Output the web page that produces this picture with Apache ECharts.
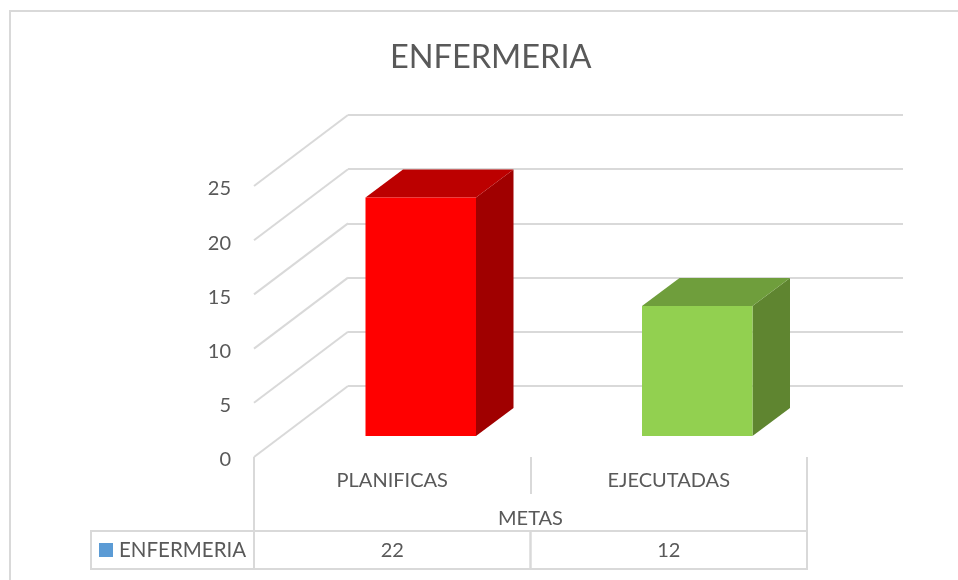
<!DOCTYPE html>
<html>
<head>
<meta charset="utf-8">
<title>ENFERMERIA</title>
<script src="https://cdn.jsdelivr.net/npm/echarts@6/dist/echarts.min.js"></script>
<style>
  html, body { margin: 0; padding: 0; background: #fff; }
  #chart { width: 958px; height: 580px; }
</style>
</head>
<body>
<div id="chart"></div>
<script>
const categories = ['PLANIFICAS', 'EJECUTADAS'];
const metas = [22, 12];
const ticks = [0, 5, 10, 15, 20, 25];
const seriesName = 'ENFERMERIA';
const axisTitle = 'METAS';

const barColors = [
    { front: '#ff0000', top: '#bc0000', side: '#a00000' },
    { front: '#92d050', top: '#6f9e3c', side: '#5f8530' }
];

const font = 'Lato';
const textColor = '#595959';
const lineColor = '#d9d9d9';

// depth of the fake 3d box
const wallDx = 94, wallDy = -71;
const barDx = 37.5, barDy = -28;
const barWidth = 110.5, barShift = 28.5, floorLift = 21;

function poly(points, fill) {
    return { type: 'polygon', shape: { points: points }, style: { fill: fill } };
}

function renderBar(params, api) {
    const i = api.value(0);
    const top = api.coord([i, api.value(1)]);
    const base = api.coord([i, 0]);
    const x0 = top[0] + barShift - barWidth / 2, x1 = x0 + barWidth;
    const y0 = top[1] - floorLift, y1 = base[1] - floorLift;
    const c = barColors[i];
    return {
        type: 'group',
        children: [
            poly([[x1, y0], [x1 + barDx, y0 + barDy], [x1 + barDx, y1 + barDy], [x1, y1]], c.side),
            poly([[x0, y0], [x0 + barDx, y0 + barDy], [x1 + barDx, y0 + barDy], [x1, y0]], c.top),
            poly([[x0, y0], [x1, y0], [x1, y1], [x0, y1]], c.front)
        ]
    };
}

function renderDiagonal(params, api) {
    const p = api.coord([0, api.value(0)]);
    const x = params.coordSys.x;
    return {
        type: 'line',
        shape: { x1: x, y1: p[1], x2: x + wallDx, y2: p[1] + wallDy },
        style: { stroke: lineColor, lineWidth: 2 }
    };
}

function renderTableCell(params, api) {
    const p = api.coord([api.value(0), 0]);
    const w = api.size([1, 0])[0];
    return {
        type: 'group',
        children: [
            {
                type: 'rect',
                shape: { x: p[0] - w / 2, y: 531, width: w, height: 38 },
                style: { fill: 'none', stroke: lineColor, lineWidth: 2 }
            },
            {
                type: 'text',
                style: {
                    x: p[0], y: 551, text: String(api.value(1)),
                    align: 'center', verticalAlign: 'middle',
                    font: '20px ' + font, fill: textColor
                }
            }
        ]
    };
}

const chart = echarts.init(document.getElementById('chart'));

chart.setOption({
    animation: false,
    backgroundColor: '#fff',
    title: {
        text: seriesName,
        left: 385, top: 36,
        textStyle: { fontFamily: font, fontSize: 32.5, fontWeight: 'normal', color: textColor }
    },
    grid: [
        { left: 254, top: 186, width: 553, height: 271 },
        { left: 348, top: 115, width: 555, height: 271 }
    ],
    xAxis: [
        {
            type: 'category', gridIndex: 0, data: categories,
            axisLine: { show: false },
            axisTick: { show: true, length: 37, lineStyle: { color: lineColor, width: 2 } },
            axisLabel: { margin: 14, fontFamily: font, fontSize: 20, color: textColor },
            name: axisTitle, nameLocation: 'middle', nameGap: 52,
            nameTextStyle: { fontFamily: font, fontSize: 20, color: textColor }
        },
        {
            type: 'category', gridIndex: 1, data: categories, show: false
        }
    ],
    yAxis: [
        {
            type: 'value', gridIndex: 0, min: 0, max: 25, interval: 5,
            axisLine: { show: false }, axisTick: { show: false }, splitLine: { show: false },
            // top align with a short line box pushes the numbers a little under the tick
            axisLabel: { margin: 23, verticalAlign: 'top', lineHeight: 6, fontFamily: font, fontSize: 20, color: textColor }
        },
        {
            type: 'value', gridIndex: 1, min: 0, max: 25, interval: 5,
            axisLine: { show: false }, axisTick: { show: false }, axisLabel: { show: false },
            splitLine: { show: true, lineStyle: { color: lineColor, width: 2 } }
        }
    ],
    series: [
        {
            type: 'custom', name: 'diagonals', xAxisIndex: 0, yAxisIndex: 0,
            data: ticks.map(t => [t]), encode: { y: 0 }, renderItem: renderDiagonal, silent: true
        },
        {
            type: 'custom', name: seriesName, xAxisIndex: 0, yAxisIndex: 0,
            data: metas.map((v, i) => [i, v]), encode: { x: 0, y: 1 }, renderItem: renderBar
        },
        {
            type: 'custom', name: 'table', xAxisIndex: 0, yAxisIndex: 0,
            data: metas.map((v, i) => [i, v]), encode: { x: 0 }, renderItem: renderTableCell, silent: true, clip: false
        }
    ],
    graphic: [
        // chart frame
        { type: 'line', silent: true, shape: { x1: 10, y1: 11, x2: 958, y2: 11 }, style: { stroke: lineColor, lineWidth: 2 } },
        { type: 'line', silent: true, shape: { x1: 10, y1: 10, x2: 10, y2: 580 }, style: { stroke: lineColor, lineWidth: 2 } },
        // table frame
        { type: 'line', silent: true, shape: { x1: 254, y1: 494, x2: 254, y2: 531 }, style: { stroke: lineColor, lineWidth: 2 } },
        { type: 'line', silent: true, shape: { x1: 807, y1: 494, x2: 807, y2: 531 }, style: { stroke: lineColor, lineWidth: 2 } },
        { type: 'rect', silent: true, shape: { x: 91, y: 531, width: 163, height: 38 }, style: { fill: 'none', stroke: lineColor, lineWidth: 2 } },
        { type: 'rect', silent: true, shape: { x: 99, y: 543, width: 14, height: 14 }, style: { fill: '#5b9bd5' } },
        { type: 'text', silent: true, style: { x: 119, y: 550, text: seriesName, verticalAlign: 'middle', font: '20.5px ' + font, fill: textColor } }
    ]
});
</script>
</body>
</html>
